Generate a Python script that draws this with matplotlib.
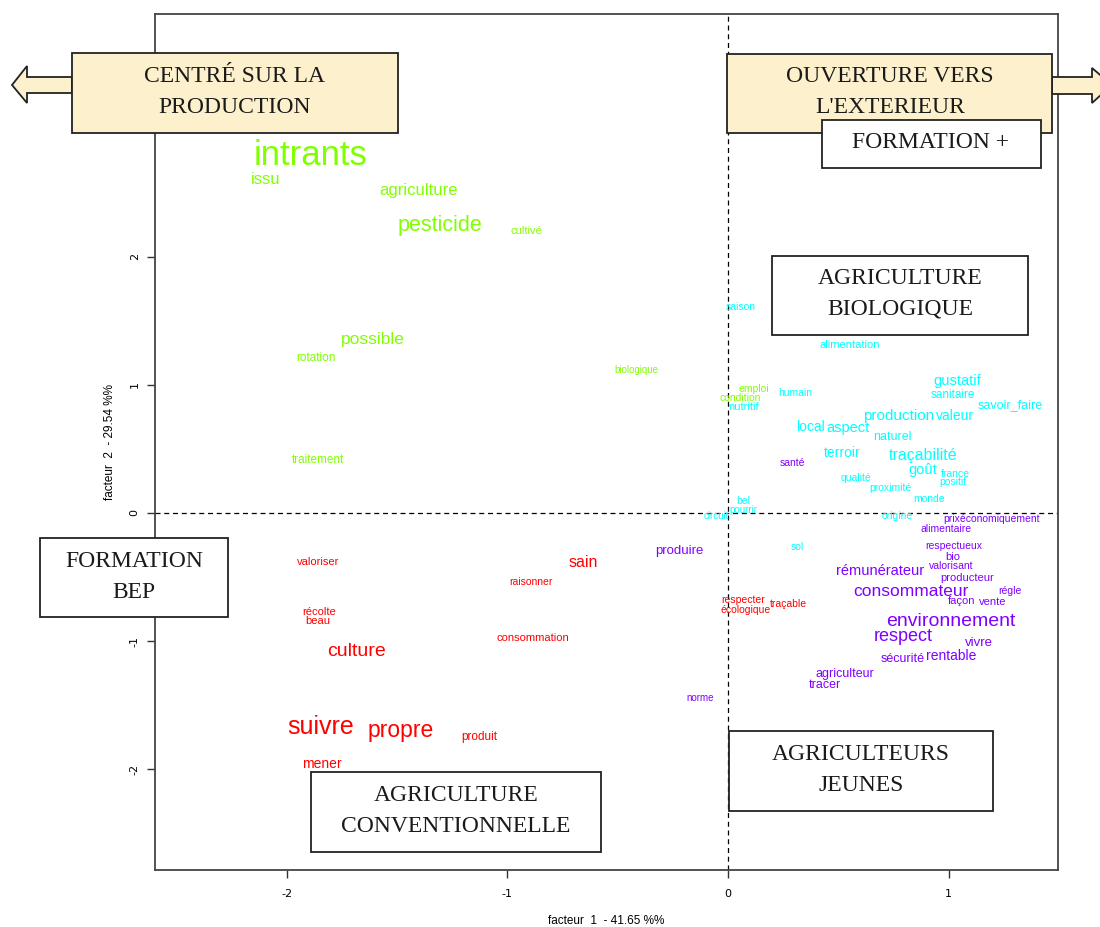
import matplotlib
matplotlib.use("Agg")
import matplotlib.pyplot as plt
from matplotlib.patches import Rectangle, Polygon

# word coordinates on the two factors, and font weight of each word
green_words = ["intrants", "issu", "agriculture", "pesticide", "cultivé", "possible",
               "rotation", "biologique", "emploi", "condition", "traitement"]
green_x = [-1.889, -2.093, -1.400, -1.305, -0.911, -1.609, -1.867, -0.417, 0.118, 0.054, -1.858]
green_y = [2.784, 2.604, 2.511, 2.238, 2.199, 1.349, 1.209, 1.115, 0.967, 0.897, 0.413]
green_size = [25, 12, 12, 15.5, 8, 12.5, 8.5, 7, 7.5, 7.5, 8.5]

cyan_words = ["saison", "alimentation", "nutritif", "humain", "gustatif", "sanitaire",
              "savoir_faire", "production", "valeur", "local", "aspect", "naturel",
              "terroir", "traçabilité", "goût", "france", "positif", "qualité",
              "proximité", "monde", "bel", "pourrir", "circuit", "origine", "sol"]
cyan_x = [0.059, 0.553, 0.072, 0.304, 1.038, 1.019, 1.278, 0.775, 1.029, 0.372, 0.544, 0.743,
          0.517, 0.884, 0.884, 1.029, 1.019, 0.580, 0.734, 0.911, 0.068, 0.072, -0.054, 0.766, 0.313]
cyan_y = [1.606, 1.310, 0.827, 0.936, 1.029, 0.920, 0.842, 0.756, 0.756, 0.671, 0.663, 0.593,
          0.468, 0.452, 0.335, 0.304, 0.242, 0.273, 0.195, 0.109, 0.094, 0.023, -0.023, -0.023, -0.265]
cyan_size = [7.5, 8, 8, 7.5, 10.5, 8.5, 9, 11, 10, 10, 10.5, 9,
             10, 11.5, 10.5, 7.5, 7.5, 7.5, 7.5, 7.5, 7.5, 7, 7, 7.5, 7.5]

purple_words = ["santé", "prixéconomiquement", "alimentaire", "respectueux", "bio",
                "valorisant", "rémunérateur", "producteur", "consommateur", "régle",
                "façon", "vente", "environnement", "respect", "vivre", "sécurité",
                "rentable", "agriculteur", "tracer", "produire", "norme"]
purple_x = [0.290, 1.196, 0.988, 1.024, 1.019, 1.010, 0.689, 1.083, 0.829, 1.278, 1.056,
            1.201, 1.010, 0.793, 1.137, 0.793, 1.010, 0.530, 0.440, -0.222, -0.127]
purple_y = [0.390, -0.047, -0.125, -0.257, -0.343, -0.413, -0.452, -0.507, -0.616, -0.608,
            -0.686, -0.694, -0.850, -0.967, -1.014, -1.138, -1.115, -1.255, -1.341, -0.296, -1.443]
purple_size = [7.5, 7.5, 7.5, 7.5, 8, 7.5, 10.5, 8, 12.5, 7.5, 8,
               8, 14, 13, 9.5, 9, 10, 9, 9, 9.5, 7]

red_words = ["valoriser", "sain", "raisonner", "récolte", "beau", "consommation", "culture",
             "suivre", "propre", "produit", "mener", "respecter", "écologique", "traçable"]
red_x = [-1.858, -0.657, -0.893, -1.853, -1.858, -0.884, -1.681, -1.844, -1.482, -1.128,
         -1.840, 0.068, 0.082, 0.276]
red_y = [-0.382, -0.390, -0.538, -0.772, -0.842, -0.975, -1.084, -1.669, -1.700, -1.747,
         -1.957, -0.678, -0.756, -0.710]
red_size = [8, 11.5, 7.5, 8, 8, 8, 14, 18, 16.5, 8.5, 10, 7.5, 7.5, 7.5]

x_ticks = [-2, -1, 0, 1]
y_ticks = [-2, -1, 0, 1, 2]

groups = [
    (green_words, green_x, green_y, green_size, "#80FF00"),
    (cyan_words, cyan_x, cyan_y, cyan_size, "#00FFFF"),
    (purple_words, purple_x, purple_y, purple_size, "#8000FF"),
    (red_words, red_x, red_y, red_size, "#FF0000"),
]

W, H = 1100, 927
fig = plt.figure(figsize=(W / 100, H / 100), dpi=100)
ax = fig.add_axes([155 / W, 1 - 870 / H, (1058 - 155) / W, (870 - 14) / H])
ax.set_xlim(-2.596, 1.495)
ax.set_ylim(-2.784, 3.891)

ax.axvline(0, color="black", ls=(0, (4, 3)), lw=0.9)
ax.axhline(0, color="black", ls=(0, (4, 3)), lw=0.9)

for words, xs, ys, sizes, col in groups:
    for w, x, y, s in zip(words, xs, ys, sizes):
        ax.text(x, y, w, color=col, fontsize=s, family="Liberation Sans",
                ha="center", va="center")

ax.set_xticks(x_ticks)
ax.set_xticklabels([str(t) for t in x_ticks])
ax.set_yticks(y_ticks)
ax.set_yticklabels([str(t) for t in y_ticks], rotation=90, va="center")
ax.tick_params(axis="x", length=6, width=1, pad=8, labelsize=8, color="#333333")
ax.tick_params(axis="y", length=6, width=1, pad=5, labelsize=8, color="#333333")
for sp in ax.spines.values():
    sp.set_color("#444444")
    sp.set_linewidth(1.3)
ax.set_xlabel("facteur  1  - 41.65 %%", fontsize=8.5, family="Liberation Sans", labelpad=11)
ax.set_ylabel("facteur  2  - 29.54 %%", fontsize=8.5, family="Liberation Sans", labelpad=10)


def fx(px):
    return px / W


def fy(py):
    return 1 - py / H


def box(x0, y0, x1, y1, label, cx, cy, face="white"):
    fig.add_artist(Rectangle((fx(x0), fy(y1)), fx(x1) - fx(x0), fy(y0) - fy(y1),
                             transform=fig.transFigure, facecolor=face,
                             edgecolor="#222222", lw=1.3, zorder=5))
    fig.text(fx(cx), fy(cy), label, ha="center", va="center", fontsize=17,
             family="Liberation Serif", color="#1a1a1a", linespacing=1.6, zorder=6)


cream = "#FDF0CD"
# arrows
fig.add_artist(Polygon([(fx(72), fy(77)), (fx(27), fy(77)), (fx(27), fy(66)), (fx(12), fy(85)),
                        (fx(27), fy(103)), (fx(27), fy(93)), (fx(72), fy(93))],
                       closed=True, transform=fig.transFigure, facecolor=cream,
                       edgecolor="#222222", lw=1.3, zorder=4))
fig.add_artist(Polygon([(fx(1052), fy(77)), (fx(1092), fy(77)), (fx(1092), fy(68)), (fx(1112), fy(85)),
                        (fx(1092), fy(103)), (fx(1092), fy(94)), (fx(1052), fy(94))],
                       closed=True, transform=fig.transFigure, facecolor=cream,
                       edgecolor="#222222", lw=1.3, zorder=4))

box(72, 53, 398, 133, "CENTRÉ SUR LA\nPRODUCTION", 235, 92, cream)
box(727, 54, 1052, 133, "OUVERTURE VERS\nL'EXTERIEUR", 890, 92, cream)
box(822, 120, 1041, 168, "FORMATION +", 931, 143)
box(772, 256, 1028, 335, "AGRICULTURE\nBIOLOGIQUE", 900, 294)
box(40, 538, 228, 617, "FORMATION\nBEP", 134, 577)
box(729, 731, 993, 811, "AGRICULTEURS\nJEUNES", 861, 770)
box(311, 772, 601, 852, "AGRICULTURE\nCONVENTIONNELLE", 456, 811)

fig.savefig("out.png", dpi=100)
